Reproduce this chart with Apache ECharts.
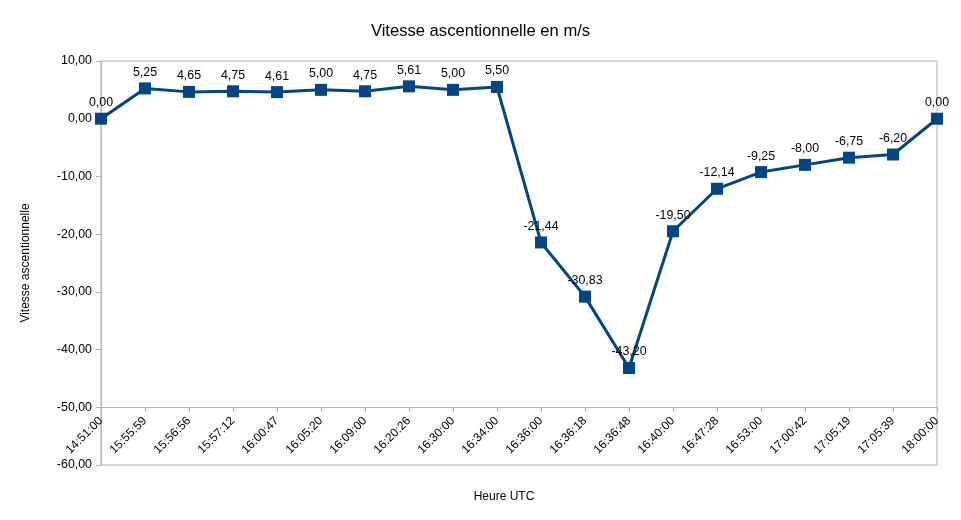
<!DOCTYPE html>
<html>
<head>
<meta charset="utf-8">
<script src="https://cdn.jsdelivr.net/npm/echarts@6/dist/echarts.min.js"></script>
<style>
  html, body { margin: 0; padding: 0; background: #fff; }
  #chart { width: 961px; height: 520px; }
</style>
</head>
<body>
<div id="chart"></div>
<script>
// heures des mesures (UTC)
var heures = ['14:51:00', '15:55:59', '15:56:56', '15:57:12', '16:00:47', '16:05:20', '16:09:00',
  '16:20:26', '16:30:00', '16:34:00', '16:36:00', '16:36:18', '16:36:48', '16:40:00',
  '16:47:28', '16:53:00', '17:00:42', '17:05:19', '17:05:39', '18:00:00'];
// vitesse ascentionnelle en m/s
var vitesses = [0.00, 5.25, 4.65, 4.75, 4.61, 5.00, 4.75, 5.61, 5.00, 5.50,
  -21.44, -30.83, -43.20, -19.50, -12.14, -9.25, -8.00, -6.75, -6.20, 0.00];

var police = 'Liberation Sans, Arial, sans-serif';
var gris = '#b3b3b3';

// format français : virgule et 2 décimales
function virgule(v) {
  return Number(v).toFixed(2).replace('.', ',');
}

var myChart = echarts.init(document.getElementById('chart'));
myChart.setOption({
  backgroundColor: '#fff',
  animation: false,
  title: [{
    text: 'Vitesse ascentionnelle en m/s',
    left: 'center',
    top: 18,
    textStyle: { fontFamily: police, fontSize: 16.6, fontWeight: 'normal', color: '#000' }
  }, {
    text: 'Heure UTC',
    left: 499,
    textAlign: 'center',
    top: 486,
    textStyle: { fontFamily: police, fontSize: 12, fontWeight: 'normal', color: '#000' }
  }],
  grid: {
    left: 101, right: 24, top: 61, bottom: 55,
    show: true, borderColor: gris, borderWidth: 1, backgroundColor: 'transparent'
  },
  xAxis: {
    type: 'category',
    data: heures,
    boundaryGap: false,
    offset: -58,
    axisLine: { onZero: false, lineStyle: { color: gris, width: 1 } },
    axisTick: { show: true, length: 5, lineStyle: { color: gris } },
    axisLabel: {
      rotate: 45, margin: 12, interval: 0,
      fontFamily: police, fontSize: 12, color: '#000'
    },
    splitLine: { show: false }
  },
  yAxis: {
    type: 'value',
    min: -60, max: 10, interval: 10,
    name: 'Vitesse ascentionnelle',
    nameLocation: 'middle',
    nameGap: 69,
    nameTextStyle: { fontFamily: police, fontSize: 12, color: '#000' },
    axisLine: { show: true, lineStyle: { color: gris, width: 1 } },
    axisTick: { show: true, length: 5, lineStyle: { color: gris } },
    axisLabel: {
      margin: 9, fontFamily: police, fontSize: 12.4, color: '#000',
      formatter: virgule
    },
    splitLine: { show: false }
  },
  series: [{
    type: 'line',
    data: vitesses,
    symbol: 'rect',
    symbolSize: 12,
    showAllSymbol: true,
    lineStyle: { color: '#004586', width: 3 },
    itemStyle: { color: '#004586' },
    label: {
      show: true, position: 'top', distance: 4,
      fontFamily: police, fontSize: 12.4, color: '#000',
      formatter: function (p) { return virgule(p.value); }
    }
  }]
});
</script>
</body>
</html>
